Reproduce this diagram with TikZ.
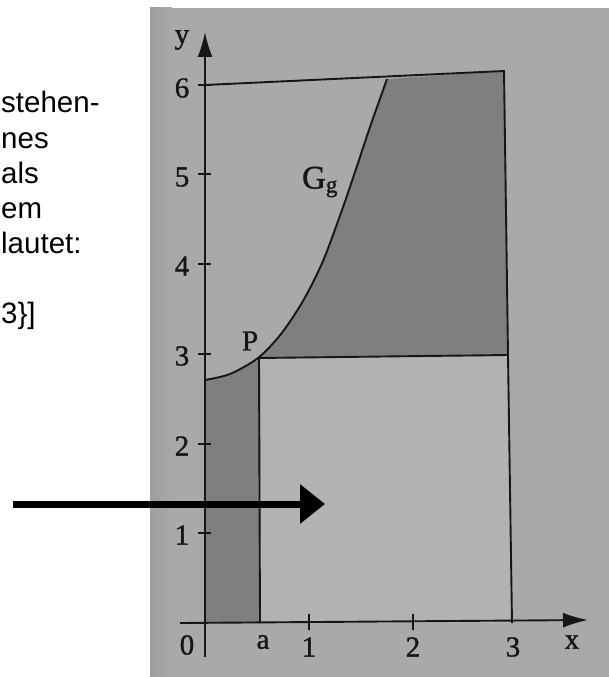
\documentclass[tikz,border=0pt]{standalone}
\usepackage{fontspec}
\setmainfont{Liberation Serif}
\newfontfamily\sansf{Liberation Sans}
\newfontfamily\labelfont[FakeBold=1.2]{Liberation Serif}
\usetikzlibrary{arrows.meta}
\definecolor{paper}{HTML}{A9AAA7}
\definecolor{paperedge}{HTML}{9D9E9C}
\definecolor{darkfill}{HTML}{7F807E}
\definecolor{litefill}{HTML}{B2B3B1}
\definecolor{ink}{HTML}{161616}
\def\curvepts{(205,380) (230,374) (258,358) (281,334) (303,301) (323,261) (342,210) (357,166) (370,127) (387,79)}
\begin{document}
\begin{tikzpicture}[x=1pt,y=-1pt,
  bline/.style={ink,line width=1.9pt},
  axisline/.style={ink,line width=1.9pt,-{Latex[length=25pt,width=15pt]}},
  ticklbl/.style={ink,font=\labelfont\fontsize{29}{29}\selectfont,inner sep=0pt},
  sidetext/.style={font=\sansf\fontsize{29.5}{30}\selectfont,anchor=base west,inner sep=0pt},
  bigarrow/.style={black,line width=7pt,-{Triangle[length=25pt,width=38pt]}}]
\useasboundingbox (0,0) rectangle (609,677);
% photo background
\fill[paper] (150,8) rectangle (609,677);
\shade[left color=paperedge,right color=paper] (150,8) rectangle (172,677);
% shaded regions
\fill[litefill] (260,357) -- (508,355) -- (512,623) -- (260,623) -- cycle;
\begin{scope}
  \clip (205,0) rectangle (260,623);
  \fill[darkfill] plot[smooth] coordinates {\curvepts} -- (420,623) -- (205,623) -- cycle;
\end{scope}
\begin{scope}
  \clip (150,8) -- (609,8) -- (609,355) -- (259,358) -- (150,358) -- cycle;
  \fill[darkfill] plot[smooth] coordinates {\curvepts} -- (504,71) -- (508,355) -- (508,420) -- (205,420) -- cycle;
\end{scope}
% named points
\coordinate (O) at (205,623);
\coordinate (ytop) at (205,32);
\coordinate (ybot) at (205,657);
\coordinate (xleft) at (180,623);
\coordinate (xtip) at (588,620);
\coordinate (P) at (259,358);
\coordinate (Pfoot) at (260,623);
\coordinate (top0) at (205,85);
\coordinate (topR) at (504,71);
\coordinate (midR) at (508,355);
\coordinate (botR) at (512,623);
% lines
\draw[bline] (top0) -- (topR) -- (midR) -- (botR);
\draw[bline] (P) -- (midR);
\draw[bline] (P) -- (Pfoot);
\draw[bline] plot[smooth] coordinates {\curvepts};
% axes
\draw[axisline] (ybot) -- (ytop);
\draw[axisline] (xleft) -- (xtip);
% ticks
\foreach \yy in {85,174,264,354,444,533} \draw[bline] (198,\yy) -- (211,\yy);
\foreach \xx in {309,413} \draw[bline] (\xx,614) -- (\xx,630);
% labels
\node[ticklbl] (ly) at (182,40) {y};
\node[ticklbl] (l6) at (182,88) {6};
\node[ticklbl] (l5) at (182,177) {5};
\node[ticklbl] (l4) at (182,266) {4};
\node[ticklbl] (l3) at (182,356) {3};
\node[ticklbl] (l2) at (182,446) {2};
\node[ticklbl] (l1) at (182,535) {1};
\node[ticklbl] (l0) at (187,645) {0};
\node[ticklbl] (la) at (263,642) {a};
\node[ticklbl] (lx1) at (309,647) {1};
\node[ticklbl] (lx2) at (413,647) {2};
\node[ticklbl] (lx3) at (513,647) {3};
\node[ticklbl] (lx) at (572,642) {x};
\node[ticklbl,font=\labelfont\fontsize{33}{33}\selectfont] (lG) at (320,182) {G\textsubscript{g}};
\node[ticklbl] (lP) at (250,341) {P};
% left text
\node[sidetext] (t1) at (1,112) {stehen-};
\node[sidetext] (t2) at (1,148) {nes};
\node[sidetext] (t3) at (1,183) {als};
\node[sidetext] (t4) at (1,218) {em};
\node[sidetext] (t5) at (1,253) {lautet:};
\node[sidetext] (t6) at (1,323) {3\}]};
% big arrow
\coordinate (arrS) at (13,504);
\coordinate (arrE) at (325,504);
\draw[bigarrow] (arrS) -- (arrE);
\end{tikzpicture}
\end{document}
